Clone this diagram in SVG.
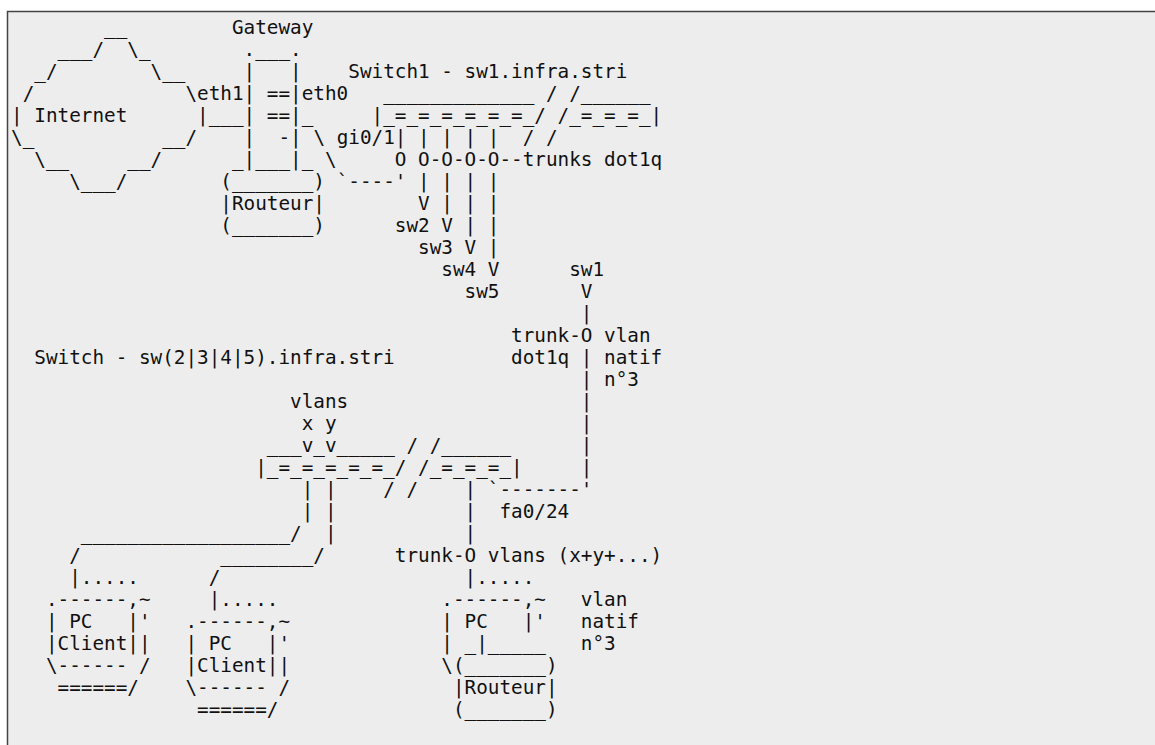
<svg xmlns="http://www.w3.org/2000/svg" width="1155" height="745" viewBox="0 0 1155 745">
<style>
.t{font-family:"DejaVu Sans Mono","Liberation Mono",monospace;font-size:19.32px;fill:#111}
</style>
<rect x="0" y="0" width="1155" height="745" fill="#ffffff"/>
<rect x="7.5" y="11.5" width="1200" height="800" fill="#ededed" stroke="#444444" stroke-width="1.5"/>
<g id="internet" class="t">
<text x="104.04" y="34">__</text>
<text x="57.52" y="56">___/&#160;&#160;\_</text>
<text x="34.26" y="78">_/&#160;&#160;&#160;&#160;&#160;&#160;&#160;&#160;\__</text>
<text x="22.63" y="100">/</text>
<text x="185.45" y="100">\</text>
<text x="11" y="122">|&#160;Internet&#160;&#160;&#160;&#160;&#160;&#160;|</text>
<text x="11" y="144">\_&#160;&#160;&#160;&#160;&#160;&#160;&#160;&#160;&#160;&#160;&#160;__/</text>
<text x="34.26" y="166">\__&#160;&#160;&#160;&#160;&#160;__/</text>
<text x="69.15" y="188">\___/</text>
</g>
<g id="gateway" class="t">
<text x="231.97" y="34">Gateway</text>
<text x="243.6" y="56">.___.</text>
<text x="243.6" y="78">|&#160;&#160;&#160;|</text>
<text x="197.08" y="100">eth1|&#160;==|eth0</text>
<text x="208.71" y="122">___|&#160;==|_</text>
<text x="243.6" y="144">|&#160;&#160;-|</text>
<text x="231.97" y="166">_|___|_</text>
<text x="220.34" y="188">(_______)</text>
<text x="220.34" y="210">|Routeur|</text>
<text x="220.34" y="232">(_______)</text>
</g>
<g id="switch1" class="t">
<text x="348.27" y="78">Switch1&#160;-&#160;sw1.infra.stri</text>
<text x="383.16" y="100">_____________&#160;/&#160;/______</text>
<text x="371.53" y="122">|_=_=_=_=_=_=_/&#160;/_=_=_=_|</text>
<text x="336.64" y="144">gi0/1|&#160;|&#160;|&#160;|&#160;|&#160;&#160;/&#160;/</text>
<text x="394.79" y="166">O&#160;O-O-O-O--trunks&#160;dot1q</text>
</g>
<g id="switch2-5" class="t">
<text x="34.26" y="364">Switch&#160;-&#160;sw(2|3|4|5).infra.stri</text>
<text x="290.12" y="408">vlans</text>
<text x="301.75" y="430">x&#160;y</text>
<text x="266.86" y="452">___v_v_____&#160;/&#160;/______</text>
<text x="255.23" y="474">|_=_=_=_=_=_/&#160;/_=_=_=_|</text>
<text x="383.16" y="496">/&#160;/</text>
</g>
<g id="pc-client-1" class="t">
<text x="45.89" y="606">.------,~</text>
<text x="45.89" y="628">|&#160;PC&#160;&#160;&#160;|'</text>
<text x="45.89" y="650">|Client||</text>
<text x="45.89" y="672">\------&#160;/</text>
<text x="57.52" y="694">======/</text>
</g>
<g id="pc-client-2" class="t">
<text x="185.45" y="628">.------,~</text>
<text x="185.45" y="650">|&#160;PC&#160;&#160;&#160;|'</text>
<text x="185.45" y="672">|Client||</text>
<text x="185.45" y="694">\------&#160;/</text>
<text x="197.08" y="716">======/</text>
</g>
<g id="pc-routeur" class="t">
<text x="441.31" y="606">.------,~</text>
<text x="441.31" y="628">|&#160;PC&#160;&#160;&#160;|'</text>
<text x="441.31" y="650">|&#160;_|_____</text>
<text x="441.31" y="672">\(_______)</text>
<text x="452.94" y="694">|Routeur|</text>
<text x="452.94" y="716">(_______)</text>
<text x="580.87" y="606">vlan</text>
<text x="580.87" y="628">natif</text>
<text x="580.87" y="650">n°3</text>
</g>
<g id="connectors" class="t">
<text x="313.38" y="144">\</text>
<text x="325.01" y="166">\</text>
<text x="336.64" y="188">`----'</text>
<text x="418.05" y="188">|&#160;|&#160;|&#160;|</text>
<text x="418.05" y="210">V&#160;|&#160;|&#160;|</text>
<text x="394.79" y="232">sw2&#160;V&#160;|&#160;|</text>
<text x="418.05" y="254">sw3&#160;V&#160;|</text>
<text x="441.31" y="276">sw4&#160;V</text>
<text x="464.57" y="298">sw5</text>
<text x="569.24" y="276">sw1</text>
<text x="580.87" y="298">V</text>
<text x="580.87" y="320">|</text>
<text x="511.09" y="342">trunk-O&#160;vlan</text>
<text x="511.09" y="364">dot1q&#160;|&#160;natif</text>
<text x="580.87" y="386">|&#160;n°3</text>
<text x="580.87" y="408">|</text>
<text x="580.87" y="430">|</text>
<text x="580.87" y="452">|</text>
<text x="580.87" y="474">|</text>
<text x="301.75" y="496">|&#160;|</text>
<text x="464.57" y="496">|</text>
<text x="487.83" y="496">`-------'</text>
<text x="301.75" y="518">|&#160;|</text>
<text x="464.57" y="518">|</text>
<text x="499.46" y="518">fa0/24</text>
<text x="80.78" y="540">__________________/</text>
<text x="325.01" y="540">|</text>
<text x="464.57" y="540">|</text>
<text x="69.15" y="562">/</text>
<text x="220.34" y="562">________/</text>
<text x="394.79" y="562">trunk-O&#160;vlans&#160;(x+y+...)</text>
<text x="69.15" y="584">|.....</text>
<text x="208.71" y="584">/</text>
<text x="464.57" y="584">|.....</text>
<text x="208.71" y="606">|.....</text>
</g>
</svg>
